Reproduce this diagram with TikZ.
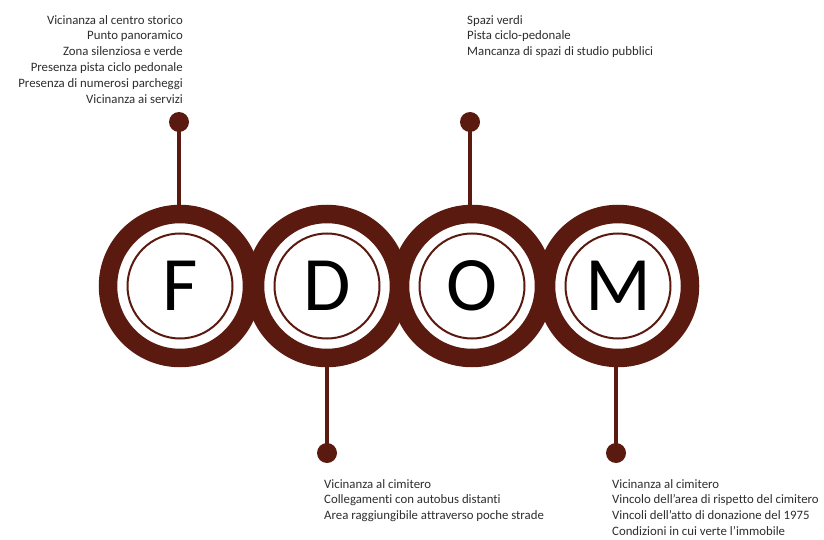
\documentclass[tikz,border=0pt]{standalone}
\usepackage{fontspec}
\setmainfont{Carlito}[Ligatures=NoCommon]
\begin{document}
\begin{tikzpicture}[x=1pt,y=-1pt,
  ring/.style={draw=brick,line width=18.5pt},
  innerring/.style={draw=brick,line width=2pt},
  stem/.style={draw=brick,line width=3.5pt},
  pin/.style={circle,fill=brick,inner sep=0pt,minimum size=20pt},
  letter/.style={font=\fontsize{77}{77}\selectfont,text=black},
  notes/.style={font=\fontsize{12.8}{15.8}\selectfont,text=textgray,inner sep=0pt}]
\definecolor{brick}{RGB}{90,26,15}
\definecolor{textgray}{RGB}{45,45,45}
\useasboundingbox (0,0) rectangle (824,540);
% the four rings
\foreach \x in {180,327,472,618}{
  \draw[ring] (\x,286) circle[radius=72];
}
\foreach \n/\x in {F/180,D/327,O/472,M/618}{
  \draw[innerring] (\x,286) circle[radius=52.5];
  \node[letter] (\n) at (\x,286) {\n};
}
% ends of the stems on the rings
\coordinate (Ftop) at (179,210);
\coordinate (Otop) at (470,210);
\coordinate (Dbot) at (327,362);
\coordinate (Mbot) at (616,362);
% pins
\node[pin] (pF) at (179,122) {};
\node[pin] (pO) at (470,122) {};
\node[pin] (pD) at (327,453) {};
\node[pin] (pM) at (616,453) {};
\draw[stem] (pF.center) -- (Ftop);
\draw[stem] (pO.center) -- (Otop);
\draw[stem] (pD.center) -- (Dbot);
\draw[stem] (pM.center) -- (Mbot);
% notes
\node[notes,align=right,anchor=north east] (tF) at (183,15) {Vicinanza al centro storico\\Punto panoramico\\Zona silenziosa e verde\\Presenza pista ciclo pedonale\\Presenza di numerosi parcheggi\\Vicinanza ai servizi};
\node[notes,align=left,anchor=north west] (tO) at (467,15) {Spazi verdi\\Pista ciclo-pedonale\\Mancanza di spazi di studio pubblici};
\node[notes,align=left,anchor=north west] (tD) at (324,479) {Vicinanza al cimitero\\Collegamenti con autobus distanti\\Area raggiungibile attraverso poche strade};
\node[notes,align=left,anchor=north west] (tM) at (612,479) {Vicinanza al cimitero\\Vincolo dell’area di rispetto del cimitero\\Vincoli dell’atto di donazione del 1975\\Condizioni in cui verte l’immobile};
\end{tikzpicture}
\end{document}
